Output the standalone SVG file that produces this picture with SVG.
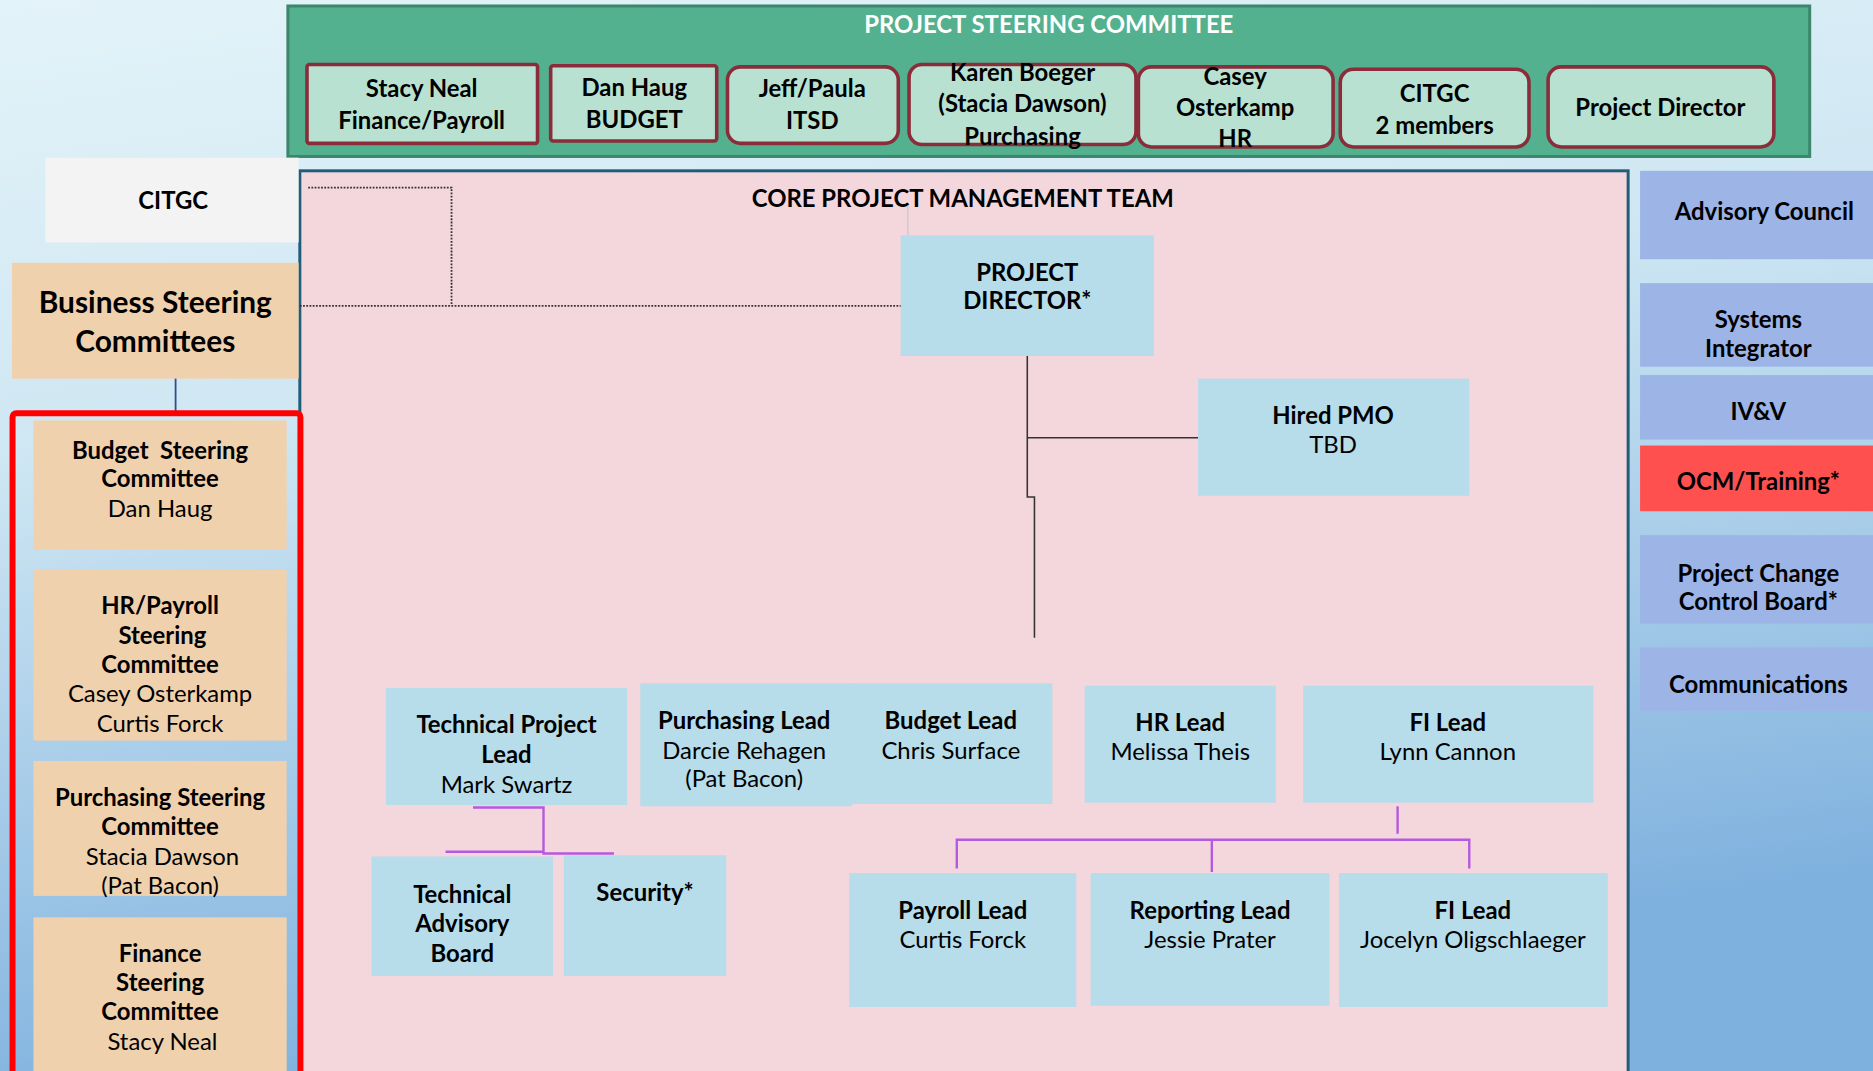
<svg xmlns="http://www.w3.org/2000/svg" width="1873" height="1071" viewBox="0 0 1873 1071">
<defs>
<linearGradient id="bg" x1="0" y1="0" x2="0.25" y2="1">
<stop offset="0" stop-color="#e3f3f9"/>
<stop offset="0.4" stop-color="#cfe7f3"/>
<stop offset="1" stop-color="#7fb1de"/>
</linearGradient>
<style>
.t{font-family:Lato,"Open Sans","Liberation Sans",sans-serif;text-anchor:middle;fill:#000}
.b{font-weight:700;font-size:20px}
.r{font-weight:400;font-size:20px}
.w{fill:#ffffff}
.big{font-size:25px}
.psc{fill:#b8e1d2;stroke:#8a2c3a;stroke-width:3}
.lead{fill:#b7dcea}
.cmt{fill:#f0d1ae}
.side{fill:#9db4e7}
.pur{fill:none;stroke:#b45ae0;stroke-width:2}
.blk{fill:none;stroke:#333;stroke-width:1.3}
.dot{fill:none;stroke:#333;stroke-width:1.5;stroke-dasharray:1.5 1.2}
</style>
</defs>
<rect x="0" y="0" width="1873" height="1071" fill="url(#bg)"/>
<g transform="scale(1.19452)">

<g id="project-steering-committee">
<rect x="241" y="5" width="1274" height="126" fill="#53b18f" stroke="#3b876c" stroke-width="2.5"/>
<text class="t b w" x="878" y="28">PROJECT STEERING COMMITTEE</text>
</g>
<g id="psc-stacy">
<rect class="psc" x="257" y="54" width="193" height="66" rx="2"/>
<text class="t b" x="353" y="81">Stacy Neal</text>
<text class="t b" x="353" y="108">Finance/Payroll</text>
</g>
<g id="psc-dan">
<rect class="psc" x="461" y="55" width="139" height="63" rx="2"/>
<text class="t b" x="531" y="80">Dan Haug</text>
<text class="t b" x="531" y="107">BUDGET</text>
</g>
<g id="psc-jeff">
<rect class="psc" x="609" y="56" width="143" height="64" rx="11"/>
<text class="t b" x="680" y="81">Jeff/Paula</text>
<text class="t b" x="680" y="108">ITSD</text>
</g>
<g id="psc-karen">
<rect class="psc" x="761" y="54" width="190" height="67" rx="11"/>
<text class="t b" x="856" y="68">Karen Boeger</text>
<text class="t b" x="856" y="94">(Stacia Dawson)</text>
<text class="t b" x="856" y="121">Purchasing</text>
</g>
<g id="psc-casey">
<rect class="psc" x="953" y="56" width="163" height="67" rx="11"/>
<text class="t b" x="1034" y="71">Casey</text>
<text class="t b" x="1034" y="97">Osterkamp</text>
<text class="t b" x="1034" y="123">HR</text>
</g>
<g id="psc-citgc">
<rect class="psc" x="1122" y="58" width="158" height="65" rx="11"/>
<text class="t b" x="1201" y="85">CITGC</text>
<text class="t b" x="1201" y="112">2 members</text>
</g>
<g id="psc-director">
<rect class="psc" x="1296" y="56" width="189" height="67" rx="11"/>
<text class="t b" x="1390" y="97">Project Director</text>
</g>

<g id="core-team">
<rect x="251" y="143" width="1112" height="770" fill="#f4d7dc" stroke="#1f5d78" stroke-width="2.5"/>
<text class="t b" x="806" y="173">CORE PROJECT MANAGEMENT TEAM</text>
</g>

<g id="citgc">
<rect x="38" y="132" width="212" height="71" fill="#f3f3f3"/>
<text class="t b" x="145" y="175">CITGC</text>
</g>
<g id="business-steering">
<rect class="cmt" x="10" y="220" width="240" height="97"/>
<text class="t b big" x="130" y="262">Business Steering</text>
<text class="t b big" x="130" y="295">Committees</text>
</g>

<g id="connectors">
<line x1="147" y1="317" x2="147" y2="346" stroke="#2a4f8a" stroke-width="1.5"/>
<path class="dot" d="M258 157 H378 V256"/>
<path class="dot" d="M251 256 H755"/>
<line x1="760" y1="172" x2="760" y2="197" stroke="#c8c8c8" stroke-width="1"/>
<path class="blk" d="M860 298 V416 H866 V534"/>
<path class="blk" d="M860 366.5 H1003"/>
<path class="pur" d="M396 676 H455 V714.5 H514"/>
<path class="pur" d="M373 713 H455"/>
<path class="pur" d="M1170 675 V698"/>
<path class="pur" d="M801 727 V703 H1230 V727"/>
<path class="pur" d="M1014.5 703 V730"/>
</g>

<g id="red-frame">
<rect x="10.5" y="346" width="241" height="560" rx="3" fill="none" stroke="#ff0000" stroke-width="5"/>
</g>
<g id="budget-steering">
<rect class="cmt" x="28" y="352" width="212" height="108"/>
<text class="t b" x="134" y="384" xml:space="preserve">Budget  Steering</text>
<text class="t b" x="134" y="408">Committee</text>
<text class="t r" x="134" y="433">Dan Haug</text>
</g>
<g id="hr-steering">
<rect class="cmt" x="28" y="477" width="212" height="143"/>
<text class="t b" x="134" y="514">HR/Payroll</text>
<text class="t b" x="136" y="539">Steering</text>
<text class="t b" x="134" y="563">Committee</text>
<text class="t r" x="134" y="588">Casey Osterkamp</text>
<text class="t r" x="134" y="613">Curtis Forck</text>
</g>
<g id="purchasing-steering">
<rect class="cmt" x="28" y="637" width="212" height="113"/>
<text class="t b" x="134" y="675">Purchasing Steering</text>
<text class="t b" x="134" y="699">Committee</text>
<text class="t r" x="136" y="724">Stacia Dawson</text>
<text class="t r" x="134" y="748">(Pat Bacon)</text>
</g>
<g id="finance-steering">
<rect class="cmt" x="28" y="768" width="212" height="140"/>
<text class="t b" x="134" y="805">Finance</text>
<text class="t b" x="134" y="830">Steering</text>
<text class="t b" x="134" y="854">Committee</text>
<text class="t r" x="136" y="879">Stacy Neal</text>
</g>

<g id="project-director">
<rect class="lead" x="754" y="197" width="212" height="101"/>
<text class="t b" x="860" y="235">PROJECT</text>
<text class="t b" x="860" y="259">DIRECTOR*</text>
</g>
<g id="hired-pmo">
<rect class="lead" x="1003" y="317" width="227" height="98"/>
<text class="t b" x="1116" y="355">Hired PMO</text>
<text class="t r" x="1116" y="379">TBD</text>
</g>
<g id="technical-project-lead">
<rect class="lead" x="323" y="576" width="202" height="98"/>
<text class="t b" x="424" y="614">Technical Project</text>
<text class="t b" x="424" y="639">Lead</text>
<text class="t r" x="424" y="664">Mark Swartz</text>
</g>
<g id="purchasing-lead">
<rect class="lead" x="536" y="572" width="177" height="103"/>
<text class="t b" x="623" y="610">Purchasing Lead</text>
<text class="t r" x="623" y="635">Darcie Rehagen</text>
<text class="t r" x="623" y="659">(Pat Bacon)</text>
</g>
<g id="budget-lead">
<rect class="lead" x="712" y="572" width="169" height="101"/>
<text class="t b" x="796" y="610">Budget Lead</text>
<text class="t r" x="796" y="635">Chris Surface</text>
</g>
<g id="hr-lead">
<rect class="lead" x="908" y="574" width="160" height="98"/>
<text class="t b" x="988" y="612">HR Lead</text>
<text class="t r" x="988" y="636">Melissa Theis</text>
</g>
<g id="fi-lead">
<rect class="lead" x="1091" y="574" width="243" height="98"/>
<text class="t b" x="1212" y="612">FI Lead</text>
<text class="t r" x="1212" y="636">Lynn Cannon</text>
</g>
<g id="technical-advisory-board">
<rect class="lead" x="311" y="717" width="152" height="100"/>
<text class="t b" x="387" y="756">Technical</text>
<text class="t b" x="387" y="780">Advisory</text>
<text class="t b" x="387" y="805">Board</text>
</g>
<g id="security">
<rect class="lead" x="472" y="716" width="136" height="101"/>
<text class="t b" x="540" y="754">Security*</text>
</g>
<g id="payroll-lead">
<rect class="lead" x="711" y="731" width="190" height="112"/>
<text class="t b" x="806" y="769">Payroll Lead</text>
<text class="t r" x="806" y="794">Curtis Forck</text>
</g>
<g id="reporting-lead">
<rect class="lead" x="913" y="731" width="200" height="111"/>
<text class="t b" x="1013" y="769">Reporting Lead</text>
<text class="t r" x="1013" y="794">Jessie Prater</text>
</g>
<g id="fi-lead-2">
<rect class="lead" x="1121" y="731" width="225" height="112"/>
<text class="t b" x="1233" y="769">FI Lead</text>
<text class="t r" x="1233" y="794">Jocelyn Oligschlaeger</text>
</g>

<g id="advisory-council">
<rect class="side" x="1373" y="143" width="200" height="74"/>
<text class="t b" x="1477" y="184">Advisory Council</text>
</g>
<g id="systems-integrator">
<rect class="side" x="1373" y="237" width="200" height="70"/>
<text class="t b" x="1472" y="275">Systems</text>
<text class="t b" x="1472" y="299">Integrator</text>
</g>
<g id="ivv">
<rect class="side" x="1373" y="314" width="200" height="54"/>
<text class="t b" x="1472" y="352">IV&amp;V</text>
</g>
<g id="ocm-training">
<rect x="1373" y="373" width="200" height="55" fill="#ff5050"/>
<text class="t b" x="1472" y="410">OCM/Training*</text>
</g>
<g id="project-change-control-board">
<rect class="side" x="1373" y="448" width="200" height="74"/>
<text class="t b" x="1472" y="487">Project Change</text>
<text class="t b" x="1472" y="511">Control Board*</text>
</g>
<g id="communications">
<rect class="side" x="1373" y="542" width="200" height="53"/>
<text class="t b" x="1472" y="580">Communications</text>
</g>
</g>
</svg>
